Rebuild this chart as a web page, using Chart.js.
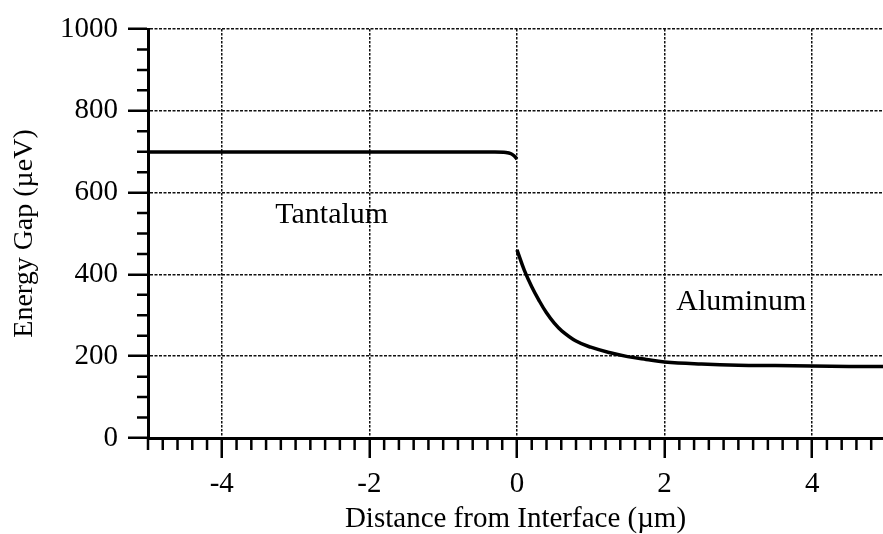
<!DOCTYPE html>
<html>
<head>
<meta charset="utf-8">
<script src="https://cdn.jsdelivr.net/npm/chart.js@4.4.0/dist/chart.umd.min.js"></script>
<style>
  html, body { margin: 0; padding: 0; background: #fff; }
  canvas { display: block; }
</style>
</head>
<body>
<canvas id="gapChart" width="883" height="534"></canvas>
<script>
// energy gap across the Ta / Al interface
const tantalumX = [-5, -0.3, -0.15, -0.08, -0.04, 0];
const tantalumGap = [699, 699, 698, 695, 690, 682];

const aluminumX = [0, 0.1, 0.2, 0.3, 0.4, 0.5, 0.6, 0.8, 1.0, 1.25, 1.5, 1.75, 2, 2.5, 3, 3.5, 4, 4.5, 5];
const aluminumGap = [460, 410, 370, 336, 306, 282, 263, 237, 222, 209, 199, 192, 186, 181, 178, 177, 176, 175, 175];

const xTicks = [-4, -2, 0, 2, 4];
const yTicks = [0, 200, 400, 600, 800, 1000];

// region names, placed in data space
const regionNames = ['Tantalum', 'Aluminum'];
const regionX = [-2.51, 3.04];
const regionY = [545, 333];

const FONT = '"Liberation Serif", "Times New Roman", serif';

const toPoints = (xs, ys) => xs.map((x, i) => ({ x: x, y: ys[i] }));

// minor tick marks every 0.2 um / 50 ueV, plus the region names
const extras = {
  id: 'extras',
  afterDraw(chart) {
    const ctx = chart.ctx;
    const xs = chart.scales.x;
    const ys = chart.scales.y;
    const area = chart.chartArea;
    ctx.save();
    ctx.strokeStyle = '#000';
    ctx.lineWidth = 2.5;
    ctx.beginPath();
    for (let i = -25; i <= 25; i++) {
      if (i % 10 === 0) continue;
      const px = xs.getPixelForValue(i / 5);
      if (px > area.right + 1) continue;
      ctx.moveTo(px, area.bottom);
      ctx.lineTo(px, area.bottom + 12);
    }
    for (let v = 50; v < 1000; v += 50) {
      if (v % 200 === 0) continue;
      const py = ys.getPixelForValue(v);
      ctx.moveTo(area.left - 11, py);
      ctx.lineTo(area.left, py);
    }
    ctx.stroke();

    ctx.fillStyle = '#000';
    ctx.font = '30px ' + FONT;
    ctx.textAlign = 'center';
    ctx.textBaseline = 'middle';
    regionNames.forEach((name, i) => {
      ctx.fillText(name, xs.getPixelForValue(regionX[i]), ys.getPixelForValue(regionY[i]));
    });
    ctx.restore();
  }
};

const lineStyle = {
  borderColor: '#000',
  borderWidth: 3.5,
  pointRadius: 0,
  fill: false
};

new Chart(document.getElementById('gapChart'), {
  type: 'line',
  data: {
    datasets: [
      Object.assign({ label: 'Tantalum', data: toPoints(tantalumX, tantalumGap), cubicInterpolationMode: 'monotone' }, lineStyle),
      Object.assign({ label: 'Aluminum', data: toPoints(aluminumX, aluminumGap), tension: 0.4 }, lineStyle)
    ]
  },
  options: {
    responsive: false,
    animation: false,
    devicePixelRatio: 1,
    layout: { padding: { top: 29, right: 0, left: 0, bottom: 0 } },
    plugins: {
      legend: { display: false },
      tooltip: { enabled: false }
    },
    scales: {
      x: {
        type: 'linear',
        min: -5,
        max: 4.96,
        afterBuildTicks: (scale) => { scale.ticks = xTicks.map(v => ({ value: v })); },
        afterFit: (scale) => { scale.height = 96; },
        ticks: {
          color: '#000',
          font: { family: FONT, size: 29 },
          padding: 9,
          maxRotation: 0,
          callback: (v) => String(v)
        },
        grid: {
          color: '#111',
          lineWidth: 1.5,
          tickLength: 20,
          tickWidth: 2.5,
          tickColor: '#000'
        },
        border: { display: true, color: '#000', width: 3, dash: [2.5, 1.5] },
        title: {
          display: true,
          text: 'Distance from Interface (µm)',
          color: '#000',
          font: { family: FONT, size: 29, lineHeight: 1 },
          padding: { top: 0, bottom: 0 }
        }
      },
      y: {
        type: 'linear',
        min: 0,
        max: 1000,
        afterBuildTicks: (scale) => { scale.ticks = yTicks.map(v => ({ value: v })); },
        afterFit: (scale) => { scale.width = 148; },
        ticks: {
          color: '#000',
          font: { family: FONT, size: 29 },
          padding: 10,
          callback: (v) => String(v)
        },
        grid: {
          color: '#111',
          lineWidth: 1.5,
          tickLength: 20,
          tickWidth: 2.5,
          tickColor: '#000'
        },
        border: { display: true, color: '#000', width: 3, dash: [3, 1.5] },
        title: {
          display: true,
          text: 'Energy Gap (µeV)',
          color: '#000',
          font: { family: FONT, size: 28, lineHeight: 1 },
          padding: { top: 11, bottom: 0 }
        }
      }
    }
  },
  plugins: [extras]
});
</script>
</body>
</html>
